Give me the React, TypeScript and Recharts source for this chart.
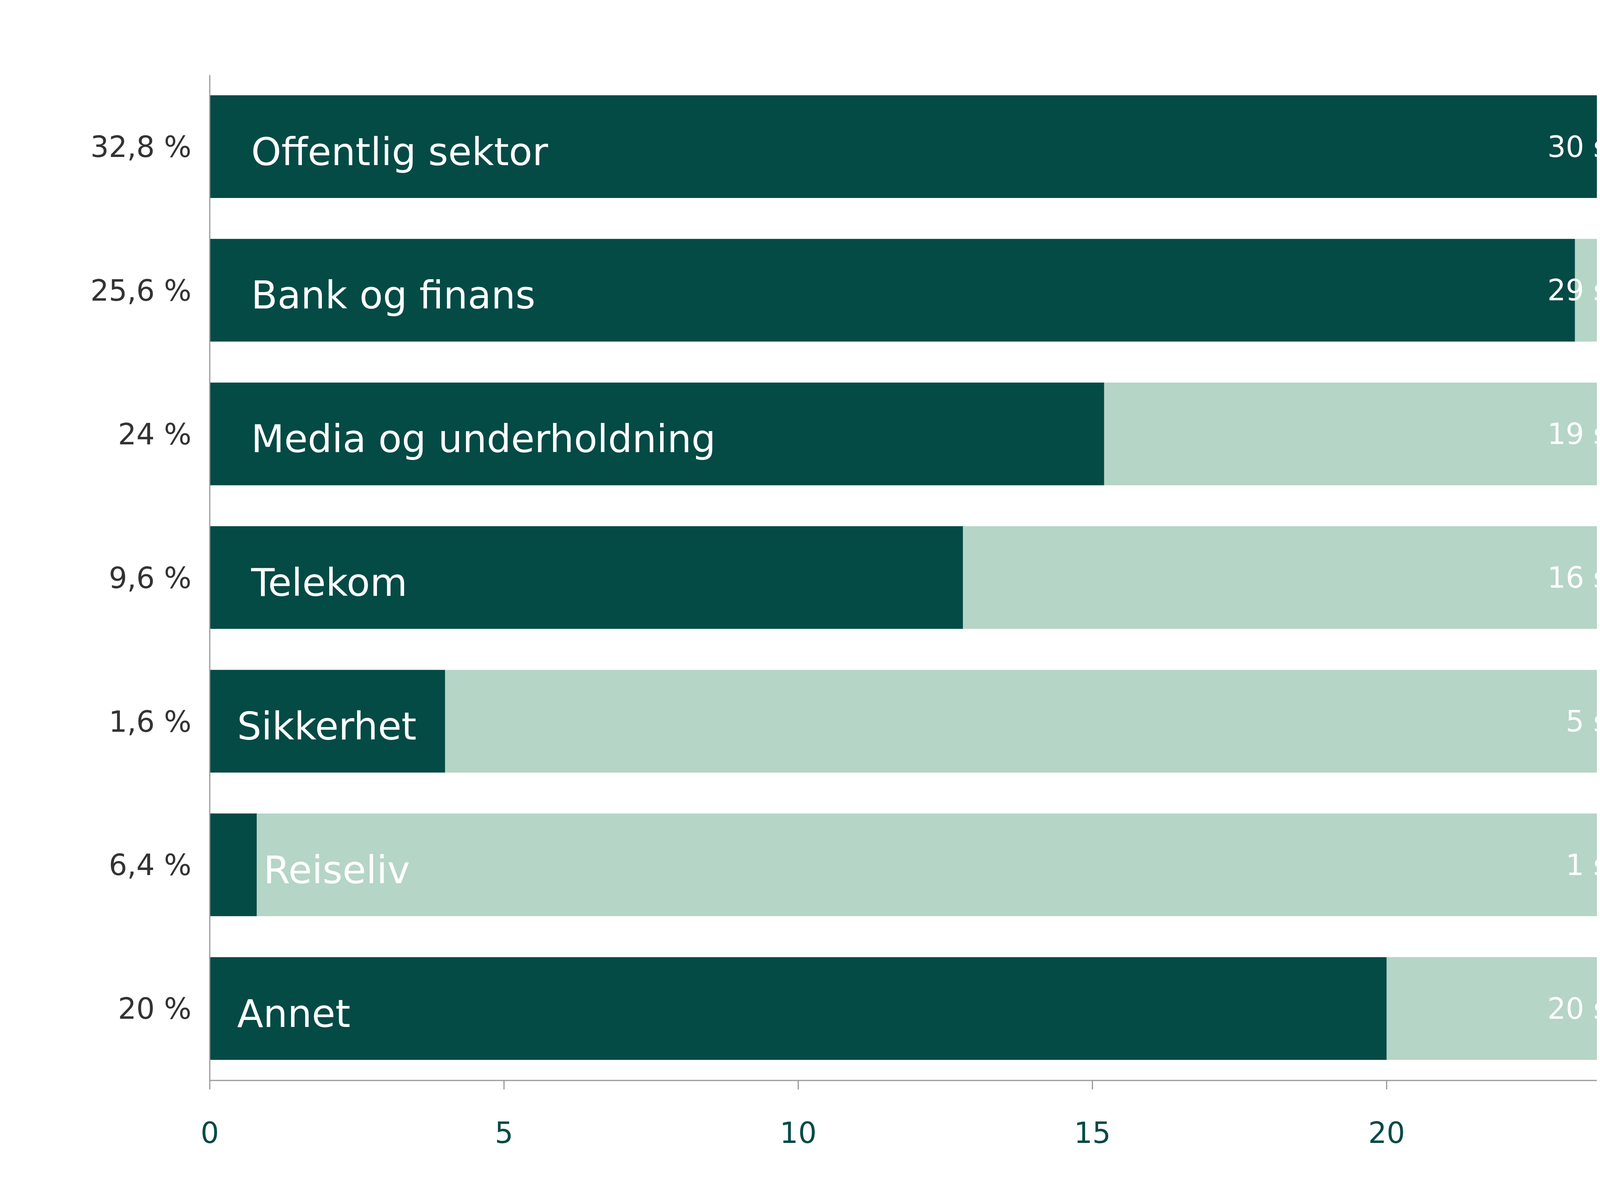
import React from "react";
import { BarChart, Bar, XAxis, YAxis, LabelList } from "recharts";

const categories = ["Offentlig sektor", "Bank og finans", "Media og underholdning", "Telekom", "Sikkerhet", "Reiseliv", "Annet"];
const pctLabels = ["32,8 %", "25,6 %", "24 %", "9,6 %", "1,6 %", "6,4 %", "20 %"];
const values = [24.0, 23.2, 15.2, 12.8, 4.0, 0.8, 20.0];
const answers = ["30 svar", "29 svar", "19 svar", "16 svar", "5 svar", "1 svar", "20 svar"];
const maxValue = 25;
const xTicks = [0, 5, 10, 15, 20, 25];

const data = categories.map((name, i) => ({
  name,
  pct: pctLabels[i],
  value: values[i],
  rest: maxValue - values[i],
  svar: answers[i],
}));

const DARK = "#044a45";
const LIGHT = "#b5d5c6";
const FONT = "'DejaVu Sans', 'Open Sans', sans-serif";
const nameIndent = [106, 106, 106, 106, 70, 17, 70];

const NameLabel = (props: any) => {
  const { x, y, width, height, index } = props;
  const tx = index === 5 ? x + width + nameIndent[index] : x + nameIndent[index];
  return (
    <text x={tx} y={y + height / 2 + 13} fill="#ffffff" fontSize={98} fontFamily={FONT} dominantBaseline="central">
      {categories[index]}
    </text>
  );
};

const SvarLabel = (props: any) => {
  const { x, y, width, height, index } = props;
  return (
    <text x={x + width - 66} y={y + height / 2} fill="#ffffff" fontSize={74} fontFamily={FONT} textAnchor="end" dominantBaseline="central">
      {answers[index]}
    </text>
  );
};

export default function App() {
  return (
    <div style={{ width: 4334, height: 3068, background: "#fff" }}>
      <BarChart
        width={4334}
        height={3068}
        data={data}
        layout="vertical"
        margin={{ top: 184, right: 39, bottom: 109, left: 0 }}
        barSize={263}
      >
        <XAxis
          type="number"
          domain={[0, maxValue]}
          ticks={xTicks}
          height={200}
          axisLine={{ stroke: "#999", strokeWidth: 3 }}
          tickLine={{ stroke: "#999", strokeWidth: 3 }}
          tickSize={23}
          tickMargin={84}
          tick={{ fill: DARK, fontSize: 74, fontFamily: FONT }}
        />
        <YAxis
          type="category"
          dataKey="pct"
          width={529}
          axisLine={{ stroke: "#999", strokeWidth: 3 }}
          tickLine={false}
          tickMargin={41}
          tick={{ fill: "#333", fontSize: 74, fontFamily: FONT }}
        />
        <Bar dataKey="value" stackId="a" fill={DARK} isAnimationActive={false}>
          <LabelList content={NameLabel} />
        </Bar>
        <Bar dataKey="rest" stackId="a" fill={LIGHT} isAnimationActive={false}>
          <LabelList content={SvarLabel} />
        </Bar>
      </BarChart>
    </div>
  );
}
